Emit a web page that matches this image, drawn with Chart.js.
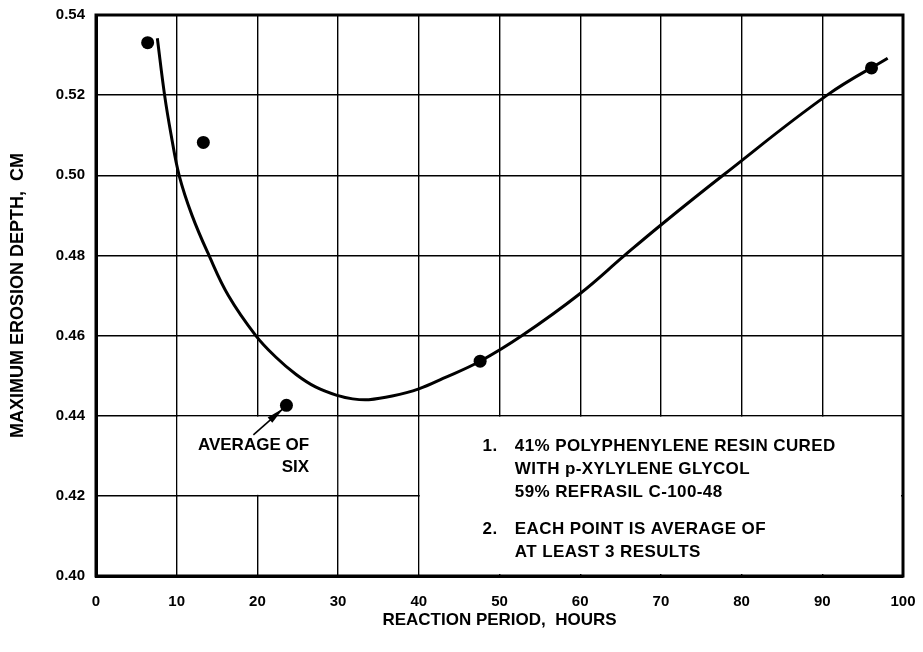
<!DOCTYPE html>
<html lang="en">
<head>
  <meta charset="UTF-8">
  <title>Maximum erosion depth vs reaction period</title>
  <script src="https://cdn.jsdelivr.net/npm/chart.js"></script>
  <style>
    body {
      margin: 0;
      padding: 0;
      background-color: #ffffff;
    }
    #erosionChart {
      display: block;
    }
  </style>
</head>
<body>
  <canvas id="erosionChart" width="923" height="652"></canvas>

  <script>
    // measured points (hours, cm)
    const pointHours = [6.4, 13.3, 23.6, 47.6, 96.1];
    const pointDepth = [0.5331, 0.5082, 0.4426, 0.4536, 0.5268];

    // hand-drawn fitted curve
    const curveHours = [7.6, 8.5, 9.3, 10.3, 11.9, 14.0, 16.4, 19.8, 22.3, 24.8, 27.2, 30.0, 31.8, 33.8, 36.7, 40.0, 43.0, 47.6, 52.8, 60, 65.5, 70, 77.7, 90.6, 98.1];
    const curveDepth = [0.5342, 0.520, 0.5102, 0.500, 0.490, 0.480, 0.470, 0.460, 0.4546, 0.4503, 0.4472, 0.4450, 0.4442, 0.4440, 0.4449, 0.4467, 0.4493, 0.4536, 0.460, 0.4705, 0.480, 0.4876, 0.500, 0.520, 0.5292];

    const xTicks = [0, 10, 20, 30, 40, 50, 60, 70, 80, 90, 100];
    const yTicks = [0.40, 0.42, 0.44, 0.46, 0.48, 0.50, 0.52, 0.54];

    const notes = [
      ['1.', '41% POLYPHENYLENE RESIN CURED'],
      ['', 'WITH p-XYLYLENE GLYCOL'],
      ['', '59% REFRASIL C-100-48'],
      ['2.', 'EACH POINT IS AVERAGE OF'],
      ['', 'AT LEAST 3 RESULTS']
    ];
    const noteDepth = [0.4323, 0.4265, 0.4210, 0.4116, 0.4058];
    const averageLabel = ['AVERAGE OF', 'SIX'];

    const FONT = '"Liberation Sans", Arial, sans-serif';

    // blank out the grid inside the notes box and behind the "average" label
    const gridMask = {
      id: 'gridMask',
      beforeDatasetsDraw(chart) {
        const { ctx, chartArea: a, scales: { x, y } } = chart;
        ctx.save();
        ctx.fillStyle = '#ffffff';
        // notes box (40..100 h, 0.40..0.44 cm)
        let l = x.getPixelForValue(40) + 1, t = y.getPixelForValue(0.44) + 1;
        ctx.fillRect(l, t, a.right - 2 - l, a.bottom - 2 - t);
        // gap in the 20 h line behind the label
        l = x.getPixelForValue(10) + 1; t = y.getPixelForValue(0.44) + 1;
        ctx.fillRect(l, t, x.getPixelForValue(30) - 1 - l, y.getPixelForValue(0.42) - 1 - t);
        // heavy frame
        ctx.strokeStyle = '#000';
        ctx.lineWidth = 3;
        ctx.strokeRect(a.left, a.top, a.right - a.left, a.bottom - a.top);
        ctx.restore();
      },
      afterDatasetsDraw(chart) {
        const { ctx, scales: { x, y } } = chart;
        ctx.save();
        ctx.fillStyle = '#000';
        ctx.font = 'bold 17px ' + FONT;
        ctx.textBaseline = 'middle';

        // notes
        ctx.letterSpacing = '0.4px';
        notes.forEach((n, i) => {
          const py = y.getPixelForValue(noteDepth[i]);
          ctx.textAlign = 'left';
          if (n[0]) ctx.fillText(n[0], x.getPixelForValue(47.9), py);
          ctx.fillText(n[1], x.getPixelForValue(51.9), py);
        });
        ctx.letterSpacing = '0px';

        // "AVERAGE OF SIX" label + arrow
        ctx.textAlign = 'right';
        ctx.fillText(averageLabel[0], x.getPixelForValue(26.4), y.getPixelForValue(0.4325));
        ctx.fillText(averageLabel[1], x.getPixelForValue(26.4), y.getPixelForValue(0.4270));

        const x0 = x.getPixelForValue(19.5), y0 = y.getPixelForValue(0.4352);
        const x1 = x.getPixelForValue(pointHours[2]) - 3, y1 = y.getPixelForValue(pointDepth[2]) + 3;
        const ang = Math.atan2(y1 - y0, x1 - x0);
        ctx.strokeStyle = '#000';
        ctx.lineWidth = 1.6;
        ctx.beginPath();
        ctx.moveTo(x0, y0);
        ctx.lineTo(x1, y1);
        ctx.stroke();
        ctx.beginPath();
        ctx.moveTo(x1, y1);
        ctx.lineTo(x1 - 18 * Math.cos(ang) + 3.5 * Math.sin(ang), y1 - 18 * Math.sin(ang) - 3.5 * Math.cos(ang));
        ctx.lineTo(x1 - 18 * Math.cos(ang) - 3.5 * Math.sin(ang), y1 - 18 * Math.sin(ang) + 3.5 * Math.cos(ang));
        ctx.closePath();
        ctx.fill();
        ctx.restore();
      }
    };

    const ctx = document.getElementById('erosionChart').getContext('2d');
    new Chart(ctx, {
      type: 'scatter',
      data: {
        datasets: [
          {
            label: 'curve',
            data: curveHours.map((h, i) => ({ x: h, y: curveDepth[i] })),
            showLine: true,
            borderColor: '#000',
            borderWidth: 3,
            pointRadius: 0,
            tension: 0.4,
            fill: false
          },
          {
            label: 'points',
            data: pointHours.map((h, i) => ({ x: h, y: pointDepth[i] })),
            showLine: false,
            backgroundColor: '#000',
            borderColor: '#000',
            borderWidth: 0,
            pointRadius: 6.5
          }
        ]
      },
      options: {
        responsive: false,
        animation: false,
        events: [],
        layout: { padding: { top: 15, right: 20, left: 0, bottom: 0 } },
        plugins: {
          legend: { display: false },
          tooltip: { enabled: false }
        },
        scales: {
          x: {
            type: 'linear',
            min: 0,
            max: 100,
            afterBuildTicks: s => { s.ticks = xTicks.map(v => ({ value: v })); },
            afterFit: s => { s.height = 76; s.paddingLeft = 0; s.paddingRight = 0; },
            grid: { color: '#000', lineWidth: 1.4, drawTicks: false },
            border: { display: true, color: '#000', width: 3 },
            ticks: {
              color: '#000',
              padding: 17,
              maxRotation: 0,
              font: { family: FONT, size: 15, weight: 'bold' },
              callback: v => String(v)
            },
            title: {
              display: true,
              text: 'REACTION PERIOD,  HOURS',
              color: '#000',
              padding: { top: 0, bottom: 21 },
              font: { family: FONT, size: 17, weight: 'bold' }
            }
          },
          y: {
            type: 'linear',
            min: 0.40,
            max: 0.54,
            afterBuildTicks: s => { s.ticks = yTicks.map(v => ({ value: v })); },
            afterFit: s => { s.width = 96; s.paddingTop = 0; s.paddingBottom = 0; },
            grid: { color: '#000', lineWidth: 1.4, drawTicks: false },
            border: { display: true, color: '#000', width: 3 },
            ticks: {
              color: '#000',
              padding: 11,
              font: { family: FONT, size: 15, weight: 'bold' },
              callback: v => v.toFixed(2)
            },
            title: {
              display: true,
              text: 'MAXIMUM EROSION DEPTH,  CM',
              color: '#000',
              padding: { top: 7, bottom: 0 },
              font: { family: FONT, size: 18, weight: 'bold' }
            }
          }
        }
      },
      plugins: [gridMask]
    });
  </script>
</body>
</html>
